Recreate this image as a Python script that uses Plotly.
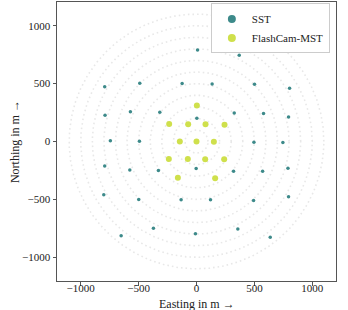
import numpy as np
import plotly.graph_objects as go

sst_x = [9, 369, -793, -490, -124, 135, 501, 804, -790, -571, -317, 3, 326, 579, 795,
         -744, -493, 496, 746, -793, -576, -329, -3, 320, 571, 790,
         -801, -499, -133, 121, 493, 795, -372, 357, -651, -9, 637]
sst_y = [791, 744, 474, 503, 500, 497, 494, 459, 227, 256, 253, 201, 247, 241, 212,
         6, 3, -6, -9, -212, -247, -250, -233, -256, -256, -230,
         -459, -500, -503, -503, -509, -477, -750, -756, -814, -797, -828]

mst_x = [3, -236, -72, 78, 242, -144, 0, 150, -239, -75, 75, 239, -161, 161]
mst_y = [311, 151, 148, 148, 145, 0, 0, -3, -151, -151, -154, -154, -314, -317]

ring_radii = [100, 200, 300, 400, 500, 600, 700, 800, 900, 1000, 1100]
ticks = [-1000, -500, 0, 500, 1000]
tick_text = ["\u22121000", "\u2212500", "0", "500", "1000"]

SST_COLOR = "#3d8a8a"
MST_COLOR = "#cfe04c"
FONT = "Liberation Serif"

fig = go.Figure()

theta = np.linspace(0, 2 * np.pi, 721)
for r in ring_radii:
    fig.add_trace(go.Scatter(
        x=r * np.cos(theta), y=r * np.sin(theta), mode="lines",
        line=dict(color="#e8e8e8", width=1.6, dash="1.6px,3px"),
        hoverinfo="skip", showlegend=False))

fig.add_trace(go.Scatter(x=sst_x, y=sst_y, mode="markers",
                         marker=dict(color=SST_COLOR, size=3.5), showlegend=False))
fig.add_trace(go.Scatter(x=mst_x, y=mst_y, mode="markers",
                         marker=dict(color=MST_COLOR, size=6), showlegend=False))

# legend entries
fig.add_trace(go.Scatter(x=[None], y=[None], mode="markers", name="SST",
                         marker=dict(color=SST_COLOR, size=8)))
fig.add_trace(go.Scatter(x=[None], y=[None], mode="markers", name="FlashCam-MST",
                         marker=dict(color=MST_COLOR, size=8)))

axis_common = dict(
    range=[-1205, 1205], tickvals=ticks, ticktext=tick_text,
    showgrid=False, zeroline=False, showline=True, mirror=True,
    linecolor="#555555", linewidth=1, ticks="outside", ticklen=3.5,
    tickcolor="#555555", tickfont=dict(family=FONT, size=11, color="#222222"),
    automargin=False,
)

fig.update_layout(
    width=348, height=310,
    margin=dict(l=57, r=12, t=2, b=29),
    plot_bgcolor="white", paper_bgcolor="white",
    font=dict(family=FONT, size=11, color="#222222"),
    xaxis=dict(axis_common, ticklabelstandoff=-7),
    yaxis=dict(axis_common),
    legend=dict(x=0.978, y=0.995, xanchor="right", yanchor="top",
                bgcolor="white", bordercolor="#cccccc", borderwidth=1,
                font=dict(family=FONT, size=11), tracegroupgap=0,
                itemwidth=30, itemsizing="trace"),
    showlegend=True,
    annotations=[
        dict(text="Easting in m \u2192", xref="paper", yref="paper",
             x=0.5, y=-0.082, xanchor="center", yanchor="middle", showarrow=False,
             font=dict(family=FONT, size=12, color="#222222")),
        dict(text="Northing in m \u2192", xref="paper", yref="paper",
             x=-0.152, y=0.5, xanchor="center", yanchor="middle", showarrow=False,
             textangle=-90, font=dict(family=FONT, size=12, color="#222222")),
    ],
)

fig.write_html("out.html", config={"displayModeBar": False},
               post_script="document.body.style.margin='0';")
